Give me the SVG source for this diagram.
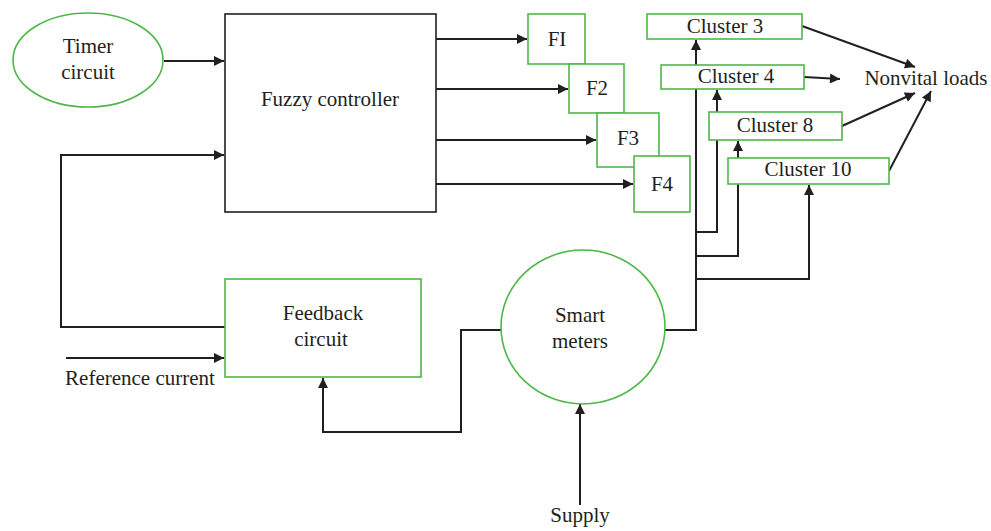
<svg xmlns="http://www.w3.org/2000/svg" width="991" height="531" viewBox="0 0 991 531">
<defs>
<marker id="ah" viewBox="0 0 10 10" refX="10" refY="5" markerWidth="5.5" markerHeight="5" orient="auto" markerUnits="strokeWidth">
<path d="M0,0 L10,5 L0,10 z" fill="#231f20"/>
</marker>
<style>
.g{fill:#fff;stroke:#4cb848;stroke-width:1.6}
.k{fill:#fff;stroke:#231f20;stroke-width:1.6}
.c{fill:none;stroke:#231f20;stroke-width:2}
.a{marker-end:url(#ah)}
text{font-family:"Liberation Serif","Times New Roman",serif;font-size:21px;fill:#231f20;text-anchor:middle}
</style>
</defs>
<rect width="991" height="531" fill="#fff"/>
<g id="connectors">
<path class="c a" d="M164,61 H224"/>
<path class="c a" d="M436,39 H527"/>
<path class="c a" d="M436,89 H568"/>
<path class="c a" d="M436,140 H596"/>
<path class="c a" d="M436,184 H633"/>
<path class="c a" d="M225,327 H61 V155 H224"/>
<path class="c a" d="M66,358 H224"/>
<path class="c a" d="M502,330 H461 V432 H323 V378"/>
<path class="c a" d="M580,505 V404"/>
<path class="c a" d="M665,330 H696 V40"/>
<path class="c a" d="M696,232 H717 V90"/>
<path class="c a" d="M696,256 H738 V141"/>
<path class="c a" d="M696,279 H809 V185"/>
<path class="c a" d="M802,26 L915,67"/>
<path class="c a" d="M804,77 L840,79"/>
<path class="c a" d="M842,126 L915,93"/>
<path class="c a" d="M889,171 L931,91"/>
</g>
<g id="timer">
<ellipse class="g" cx="88" cy="60" rx="75" ry="47"/>
<text x="88" y="53">Timer</text>
<text x="88" y="79">circuit</text>
</g>
<g id="fuzzy">
<rect class="k" x="225" y="14" width="211" height="198"/>
<text x="330" y="106">Fuzzy controller</text>
</g>
<g id="f1">
<rect class="g" x="528" y="14" width="57" height="50"/>
<text x="557" y="46">FI</text>
</g>
<g id="f2">
<rect class="g" x="569" y="64" width="55" height="49"/>
<text x="597" y="95">F2</text>
</g>
<g id="f3">
<rect class="g" x="597" y="113" width="62" height="54"/>
<text x="628" y="145">F3</text>
</g>
<g id="f4">
<rect class="g" x="634" y="156" width="56" height="56"/>
<text x="662" y="191">F4</text>
</g>
<g id="cluster3">
<rect class="g" x="647" y="14" width="155" height="25"/>
<text x="725" y="33">Cluster 3</text>
</g>
<g id="cluster4">
<rect class="g" x="661" y="65" width="143" height="24"/>
<text x="736" y="83">Cluster 4</text>
</g>
<g id="cluster8">
<rect class="g" x="709" y="112" width="133" height="28"/>
<text x="775" y="132">Cluster 8</text>
</g>
<g id="cluster10">
<rect class="g" x="728" y="158" width="161" height="26"/>
<text x="808" y="176">Cluster 10</text>
</g>
<g id="nonvital">
<text x="926" y="85">Nonvital loads</text>
</g>
<g id="feedback">
<rect class="g" x="225" y="279" width="196" height="98"/>
<text x="323" y="320">Feedback</text>
<text x="321" y="346">circuit</text>
</g>
<g id="reference">
<text x="140" y="385">Reference current</text>
</g>
<g id="smart">
<ellipse class="g" cx="583" cy="327" rx="82" ry="77"/>
<text x="580" y="322">Smart</text>
<text x="580" y="348">meters</text>
</g>
<g id="supply">
<text x="580" y="522">Supply</text>
</g>
</svg>
